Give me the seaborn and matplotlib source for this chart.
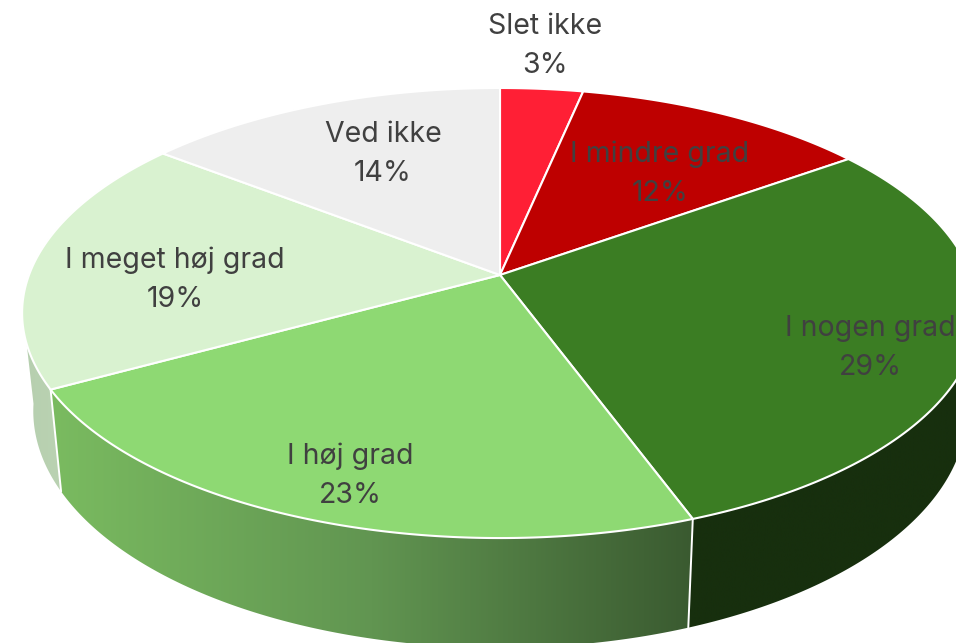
import numpy as np
import matplotlib
matplotlib.use("Agg")
import matplotlib.pyplot as plt
from matplotlib.colors import LinearSegmentedColormap
from matplotlib.patches import Polygon
import seaborn as sns

# ---- data ----
categories = ["Slet ikke", "I mindre grad", "I nogen grad", "I høj grad", "I meget høj grad", "Ved ikke"]
shares = [3.3, 11.8, 29.3, 22.6, 18.5, 14.49]
pct_labels = ["3%", "12%", "29%", "23%", "19%", "14%"]

# ---- styling ----
top_colors = ["#FF1F35", "#BE0000", "#3B7D23", "#8ED973", "#D9F2D0", "#EEEEEE"]
side_stops = {
    2: ["#172F0E", "#172F0E"],
    3: ["#7ABB60", "#619551", "#3A5A30"],
    4: ["#B6CFAF", "#BAD2B2"],
}
label_centres = [(545, 46), (660, 174), (870, 348), (350, 476), (175, 280), (383, 154)]

sns.set_theme(style="white")
plt.rcParams["font.family"] = ["Inter", "DejaVu Sans"]

W, H = 956, 643
CX, CY = 500, 275
TOP_A, TOP_B = 471, 218.6
BOT_A, BOT_B, BOT_Y = 460, 230, 371
PERSP = 0.169
VISIBLE = (98, 262)


def rim(theta, a, b, y0):
    t = np.radians(theta)
    u, v = np.sin(t), np.cos(t)
    w = 1 + PERSP * v
    return np.column_stack([CX + a * u / w, y0 - b * v / w])


fig = plt.figure(figsize=(W / 100, H / 100), dpi=100)
ax = fig.add_axes([0, 0, 1, 1])

edges = np.concatenate([[0], np.cumsum(shares)]) / np.sum(shares) * 360

# side walls, only along the front of the disc
for i, stops in side_stops.items():
    lo, hi = max(edges[i], VISIBLE[0]), min(edges[i + 1], VISIBLE[1])
    th = np.linspace(lo, hi, 120)
    top = rim(th, TOP_A, TOP_B, CY)
    bot = rim(th, BOT_A, BOT_B, BOT_Y)
    pts = np.vstack([top, bot[::-1]])
    x0, x1 = pts[:, 0].min(), pts[:, 0].max()
    y0, y1 = pts[:, 1].min(), pts[:, 1].max()
    cmap = LinearSegmentedColormap.from_list(f"side{i}", stops)
    im = ax.imshow(np.linspace(0, 1, 512)[None, :], cmap=cmap, extent=(x0, x1, y1, y0),
                   aspect="auto", interpolation="bilinear", zorder=1)
    clip = Polygon(pts, closed=True, transform=ax.transData, fc="none", ec="none")
    ax.add_patch(clip)
    im.set_clip_path(clip)

# white seams between side walls
for i in (3, 4):
    th = np.array([edges[i]])
    seg = np.vstack([rim(th, TOP_A, TOP_B, CY), rim(th, BOT_A, BOT_B, BOT_Y)])
    ax.plot(seg[:, 0], seg[:, 1], color="white", lw=1.4, zorder=2)

# top face
for i in range(len(shares)):
    th = np.linspace(edges[i], edges[i + 1], 200)
    pts = np.vstack([[CX, CY], rim(th, TOP_A, TOP_B, CY)])
    ax.add_patch(Polygon(pts, closed=True, fc=top_colors[i], ec="white", lw=1.5,
                         joinstyle="round", zorder=3))

for name, pct, (x, y) in zip(categories, pct_labels, label_centres):
    ax.text(x, y, f"{name}\n{pct}", ha="center", va="center", fontsize=20.5,
            color="#404040", linespacing=1.55, zorder=4)

ax.set_xlim(0, W)
ax.set_ylim(H, 0)
ax.axis("off")
fig.savefig("out.png", dpi=100, facecolor="white")
